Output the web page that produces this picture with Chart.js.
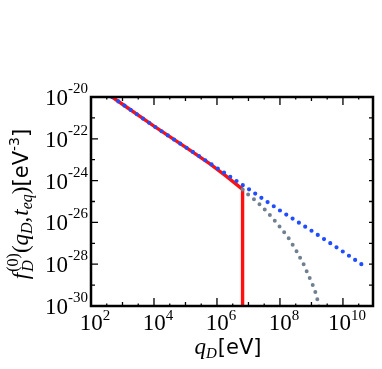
<!DOCTYPE html>
<html>
<head>
<meta charset="utf-8">
<script src="https://cdn.jsdelivr.net/npm/chart.js@4/dist/chart.umd.min.js"></script>
<style>
html,body{margin:0;padding:0;background:#fff;}
#wrap{width:382px;height:369px;position:relative;}
</style>
</head>
<body>
<div id="wrap"><canvas id="c" width="382" height="369"></canvas></div>
<script>
// ---- data (q_D in eV, f_D in eV^-3) ----
const qBlue = [3e2, 1e3, 1e4, 1e5, 1e6, 1e7, 1e8, 1e9, 1e10, 6e10];
const fBlue = [1.58e-20, 4.5e-21, 4.0e-22, 4.0e-23, 4.0e-24, 4.0e-25, 3.7e-26, 4.0e-27, 4.0e-28, 6.3e-29];

const qRed = [3e2, 1e3, 1e4, 1e5, 6e5, 2e6, 6.5e6, 6.5e6];
const fRed = [1.58e-20, 4.5e-21, 4.0e-22, 4.0e-23, 6.3e-24, 1.6e-24, 3.8e-25, 1e-32];

const qGray = [6.5e6, 1e7, 1.78e7, 3.16e7, 5.62e7, 1e8, 1.78e8, 3.16e8, 5.62e8, 1e9, 1.26e9, 1.58e9, 2e9];
const fGray = [3.8e-25, 2.1e-25, 1.05e-25, 4.4e-26, 1.74e-26, 6.0e-27, 2.0e-27, 5.0e-28, 1.0e-28, 1.4e-29, 6.3e-30, 1.8e-30, 3.2e-31];

const xTickExps = [2, 4, 6, 8, 10];
const yTickExps = [-20, -22, -24, -26, -28, -30];
const xMin = 1e2, xMax = 9e10, yMin = 1e-30, yMax = 1e-20;

const pts = (xs, ys) => xs.map((x, i) => ({x: x, y: ys[i]}));

const SERIF = "'Liberation Serif', serif";
const SANS = "'DejaVu Sans', sans-serif";

function drawRich(ctx, segs, x, y, align) {
  let w = 0;
  const items = segs.map(s => {
    const parts = s.stack || [s];
    let ww = 0;
    for (const p of parts) { ctx.font = p.f; ww = Math.max(ww, ctx.measureText(p.t).width); }
    ww += (s.gap || 0);
    w += ww;
    return {parts, w: ww};
  });
  let cx = align === 'center' ? x - w / 2 : (align === 'right' ? x - w : x);
  ctx.textAlign = 'left';
  ctx.textBaseline = 'alphabetic';
  for (const it of items) {
    for (const p of it.parts) { ctx.font = p.f; ctx.fillText(p.t, cx + (p.dx || 0), y + (p.dy || 0)); }
    cx += it.w;
  }
}

const decor = {
  id: 'decor',
  afterDraw(chart) {
    const ctx = chart.ctx, a = chart.chartArea;
    const xs = chart.scales.x, ys = chart.scales.y;
    ctx.save();
    ctx.strokeStyle = '#000';
    ctx.fillStyle = '#000';
    // ticks
    ctx.lineWidth = 1.3;
    ctx.beginPath();
    for (let e = 2; e <= 11; e += 0.5) {
      const v = Math.pow(10, e);
      if (v > xMax) break;
      const px = xs.getPixelForValue(v);
      let len = 2.5;
      if (Number.isInteger(e)) len = (e % 2 === 0) ? 8 : 4;
      ctx.moveTo(px, a.bottom); ctx.lineTo(px, a.bottom - len);
      ctx.moveTo(px, a.top); ctx.lineTo(px, a.top + len);
    }
    for (let e = -30; e <= -20; e++) {
      const py = ys.getPixelForValue(Math.pow(10, e));
      const len = (e % 2 === 0) ? 7 : 4;
      ctx.moveTo(a.left, py); ctx.lineTo(a.left + len, py);
      ctx.moveTo(a.right, py); ctx.lineTo(a.right - 4, py);
    }
    ctx.stroke();
    // frame
    ctx.lineWidth = 2.5;
    ctx.strokeRect(a.left, a.top, a.right - a.left, a.bottom - a.top);
    // x tick labels
    for (const e of xTickExps) {
      const px = xs.getPixelForValue(Math.pow(10, e));
      drawRich(ctx, [
        {t: '10', f: '23px ' + SERIF},
        {t: String(e), f: '15px ' + SERIF, dy: -10}
      ], px + 4, 330, 'center');
    }
    // y tick labels
    for (const e of yTickExps) {
      const py = ys.getPixelForValue(Math.pow(10, e));
      drawRich(ctx, [
        {t: '10', f: '23px ' + SERIF},
        {t: '-' + String(-e), f: '15px ' + SERIF, dy: -12}
      ], 88, py + 8, 'right');
    }
    // x axis title
    drawRich(ctx, [
      {t: 'q', f: 'italic 23px ' + SERIF},
      {t: 'D', f: 'italic 15px ' + SERIF, dy: 4, gap: 1},
      {t: '[eV]', f: '21px ' + SANS}
    ], 228, 354, 'center');
    // y axis title (rotated)
    ctx.translate(28, 204);
    ctx.rotate(-Math.PI / 2);
    drawRich(ctx, [
      {t: 'f', f: 'italic 23px ' + SERIF, gap: 1},
      {stack: [
        {t: 'D', f: 'italic 16px ' + SERIF, dy: 5},
        {t: '(0)', f: '16px ' + SERIF, dy: -10}
      ]},
      {t: '(', f: '23px ' + SERIF},
      {t: 'q', f: 'italic 23px ' + SERIF},
      {t: 'D', f: 'italic 16px ' + SERIF, dy: 4},
      {t: ',', f: '23px ' + SERIF, gap: 1},
      {t: 't', f: 'italic 23px ' + SERIF},
      {t: 'eq', f: 'italic 16px ' + SERIF, dy: 4},
      {t: ')', f: '23px ' + SERIF},
      {t: '[eV', f: '21px ' + SANS},
      {t: '-3', f: '14px ' + SANS, dy: -9},
      {t: ']', f: '21px ' + SANS}
    ], 0, 0, 'center');
    ctx.restore();
  }
};

new Chart(document.getElementById('c'), {
  type: 'line',
  data: {
    datasets: [
      {
        label: 'blue',
        data: pts(qBlue, fBlue),
        borderColor: '#1f4dff',
        borderWidth: 4.2,
        borderDash: [0, 7.5],
        borderCapStyle: 'round',
        pointRadius: 0,
        fill: false,
        tension: 0
      },
      {
        label: 'gray',
        data: pts(qGray, fGray),
        borderColor: '#708090',
        borderWidth: 4,
        borderDash: [0, 7.5],
        borderCapStyle: 'round',
        pointRadius: 0,
        fill: false,
        tension: 0
      },
      {
        label: 'red',
        data: pts(qRed, fRed),
        borderColor: '#ff1010',
        borderWidth: 3.4,
        pointRadius: 0,
        fill: false,
        tension: 0
      }
    ]
  },
  options: {
    responsive: false,
    animation: false,
    layout: {padding: {left: 91, right: 9, top: 97, bottom: 63}},
    plugins: {legend: {display: false}, tooltip: {enabled: false}},
    scales: {
      x: {type: 'logarithmic', min: xMin, max: xMax, display: false},
      y: {type: 'logarithmic', min: yMin, max: yMax, display: false}
    }
  },
  plugins: [decor]
});
</script>
</body>
</html>
